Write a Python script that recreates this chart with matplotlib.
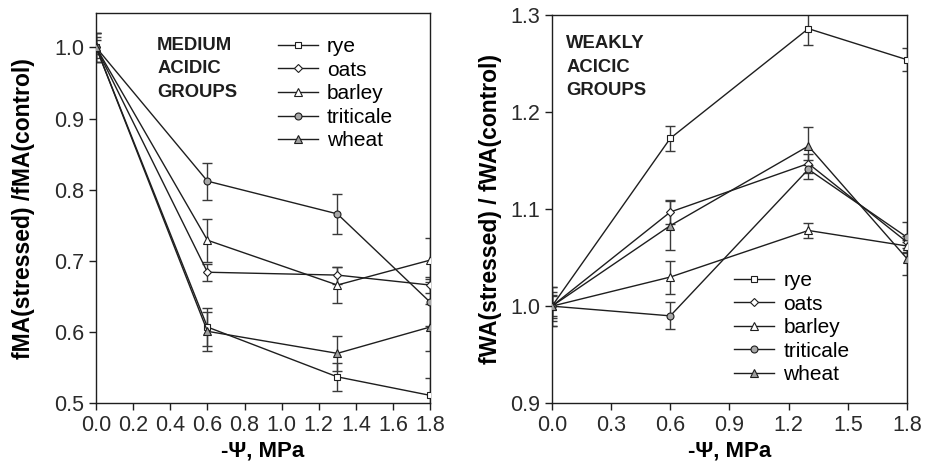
import numpy as np
import matplotlib
matplotlib.use('Agg')
import matplotlib.pyplot as plt

plt.rcParams['font.family'] = ['Liberation Sans', 'DejaVu Sans']

# Presion hidrica (-Psi, MPa)
psi = [0.0, 0.6, 1.3, 1.8]
cultivos = ['rye', 'oats', 'barley', 'triticale', 'wheat']

# Panel izquierdo: grupos medianamente acidos
ma_rye = [1.0, 0.607, 0.537, 0.511]
ma_oats = [1.0, 0.684, 0.680, 0.666]
ma_barley = [1.0, 0.729, 0.666, 0.701]
ma_triticale = [1.0, 0.812, 0.766, 0.642]
ma_wheat = [1.0, 0.601, 0.570, 0.607]
ma_rye_err = [0.02, 0.027, 0.02, 0.025]
ma_oats_err = [0.015, 0.012, 0.012, 0.011]
ma_barley_err = [0.02, 0.03, 0.025, 0.031]
ma_triticale_err = [0.01, 0.026, 0.028, 0.033]
ma_wheat_err = [0.02, 0.027, 0.025, 0.033]

# Panel derecho: grupos debilmente acidos
wa_rye = [1.0, 1.173, 1.286, 1.254]
wa_oats = [1.0, 1.097, 1.147, 1.066]
wa_barley = [1.0, 1.030, 1.078, 1.062]
wa_triticale = [1.0, 0.990, 1.141, 1.071]
wa_wheat = [1.0, 1.083, 1.165, 1.049]
wa_rye_err = [0.02, 0.013, 0.017, 0.012]
wa_oats_err = [0.015, 0.012, 0.01, 0.006]
wa_barley_err = [0.012, 0.017, 0.008, 0.006]
wa_triticale_err = [0.01, 0.014, 0.01, 0.016]
wa_wheat_err = [0.02, 0.025, 0.02, 0.017]

marcadores = ['s', 'D', '^', 'o', '^']
tamanos = [4.8, 4.2, 5.5, 5.0, 5.5]
rellenos = ['white', 'white', 'white', '#a8a8a8', '#a0a0a0']
negro = '#1e1e1e'
gris = '#3a3a3a'

fig = plt.figure(figsize=(9.33, 4.71), dpi=100)
ax1 = fig.add_axes([0.103, 0.144, 0.358, 0.828])
ax2 = fig.add_axes([0.5916, 0.144, 0.3805, 0.824])


def dibujar(ax, series, errores):
    for i, (y, e) in enumerate(zip(series, errores)):
        ax.errorbar(psi, y, yerr=e, fmt='none', ecolor=gris, elinewidth=1,
                    capsize=3.5, capthick=1, zorder=2)
        ax.plot(psi, y, color=negro, lw=1, marker=marcadores[i], ms=tamanos[i],
                mfc=rellenos[i], mec=negro, mew=0.8, label=cultivos[i], zorder=3)
    ax.tick_params(direction='out', length=5, width=1, labelsize=15.5,
                   colors=negro, labelcolor='#2a2a2a', top=False, right=False)
    for s in ax.spines.values():
        s.set_linewidth(1)
        s.set_color(negro)
    ax.set_xlabel('-\u03a8, MPa', fontsize=16, fontweight='bold')
    ax.xaxis.set_label_coords(0.5, -0.095)


dibujar(ax1, [ma_rye, ma_oats, ma_barley, ma_triticale, ma_wheat],
        [ma_rye_err, ma_oats_err, ma_barley_err, ma_triticale_err, ma_wheat_err])
ax1.set_xlim(0, 1.8)
ax1.set_ylim(0.5, 1.048)
ax1.set_xticks(np.arange(0, 1.81, 0.2))
ax1.set_xticklabels([f'{v:.1f}' for v in np.arange(0, 1.81, 0.2)])
ax1.set_yticks([0.5, 0.6, 0.7, 0.8, 0.9, 1.0])
ax1.set_yticklabels(['0.5', '0.6', '0.7', '0.8', '0.9', '1.0'])
ax1.set_ylabel('fMA(stressed) /fMA(control)', fontsize=16.5, fontweight='bold')
ax1.yaxis.set_label_coords(-0.183, 0.5)
ax1.text(0.183, 0.94, 'MEDIUM\nACIDIC\nGROUPS', transform=ax1.transAxes,
         fontsize=13.3, fontweight='bold', va='top', ha='left', linespacing=1.5, color=negro)
ax1.legend(loc='upper left', bbox_to_anchor=(0.52, 0.96), frameon=False,
           fontsize=15, handlelength=1.9, handletextpad=0.45, labelspacing=0.22,
           borderaxespad=0)

dibujar(ax2, [wa_rye, wa_oats, wa_barley, wa_triticale, wa_wheat],
        [wa_rye_err, wa_oats_err, wa_barley_err, wa_triticale_err, wa_wheat_err])
ax2.set_xlim(0, 1.8)
ax2.set_ylim(0.9, 1.3)
ax2.set_xticks([0.0, 0.3, 0.6, 0.9, 1.2, 1.5, 1.8])
ax2.set_xticklabels(['0.0', '0.3', '0.6', '0.9', '1.2', '1.5', '1.8'])
ax2.set_yticks([0.9, 1.0, 1.1, 1.2, 1.3])
ax2.set_yticklabels(['0.9', '1.0', '1.1', '1.2', '1.3'])
ax2.set_ylabel('fWA(stressed) / fWA(control)', fontsize=16.5, fontweight='bold')
ax2.yaxis.set_label_coords(-0.141, 0.5)
ax2.text(0.04, 0.948, 'WEAKLY\nACICIC\nGROUPS', transform=ax2.transAxes,
         fontsize=13.3, fontweight='bold', va='top', ha='left', linespacing=1.5, color=negro)
ax2.legend(loc='upper left', bbox_to_anchor=(0.49, 0.362), frameon=False,
           fontsize=15, handlelength=1.9, handletextpad=0.45, labelspacing=0.22,
           borderaxespad=0)

fig.savefig('out.png', dpi=100)
